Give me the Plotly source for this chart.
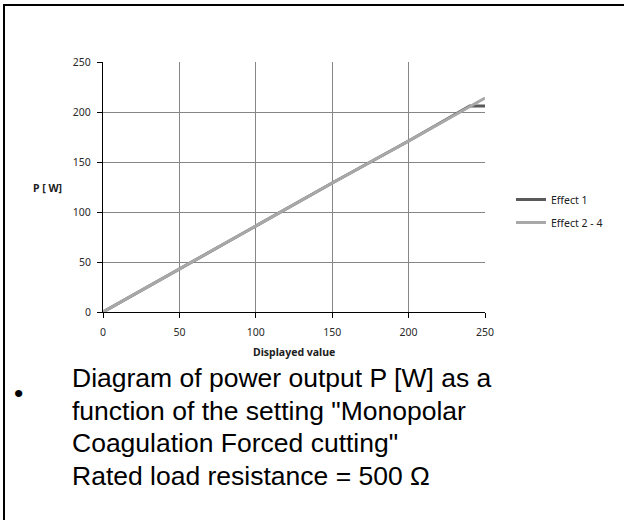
import plotly.graph_objects as go

# Power output vs. displayed setting
displayed = [0, 50, 100, 150, 200, 240, 250]
effect_1 = [0, 43, 86, 129, 171, 206, 206]
effect_2_4 = [0, 43, 86, 129, 171, 206, 214]

x_ticks = [0, 50, 100, 150, 200, 250]
y_ticks = [0, 50, 100, 150, 200, 250]

W, H = 624, 520
L, R, T, B = 103, 485, 62, 312  # plot area in pixels


def px(x):
    return (x - L) / (R - L)


def py(y):
    return (B - y) / (B - T)


tick_font = dict(family="Noto Sans", size=10.5, color="#2a2a2a")
label_font = dict(family="Noto Sans", size=10.5, color="#202020")
grid = "#868686"

fig = go.Figure()
fig.add_trace(go.Scatter(x=displayed, y=effect_1, mode="lines", name="Effect 1",
                         legendgroup="e1",
                         line=dict(color="#5a5a5a", width=3)))
fig.add_trace(go.Scatter(x=displayed, y=effect_2_4, mode="lines", name="Effect 2 - 4",
                         legendgroup="e24",
                         line=dict(color="#a8a8a8", width=3)))

axis_common = dict(range=[0, 250], showgrid=True, gridcolor=grid, gridwidth=1,
                   zeroline=False, showline=True, linecolor="black", linewidth=1,
                   ticks="outside", ticklen=5, tickcolor="black", tickfont=tick_font,
                   fixedrange=True)
fig.update_xaxes(tickvals=x_ticks, ticklabelstandoff=5, **axis_common)
fig.update_yaxes(tickvals=y_ticks, ticklabelstandoff=4, **axis_common)

body_font = dict(family="Liberation Sans", size=26.5, color="black")
annotations = [
    dict(text="<b>Displayed value</b>", x=px(294), y=py(352), xref="paper", yref="paper",
         xanchor="center", yanchor="middle", showarrow=False, font=label_font),
    dict(text="<b>P [ W]</b>", x=px(47), y=py(188), xref="paper", yref="paper",
         xanchor="center", yanchor="middle", showarrow=False, font=label_font),
    dict(text="•", x=px(18), y=py(393), xref="paper", yref="paper", showarrow=False,
         xanchor="center", yanchor="middle", font=body_font),
]
lines = [
    'Diagram of power output P [W] as a',
    'function of the setting "Monopolar',
    'Coagulation Forced cutting"',
    'Rated load resistance = 500 Ω',
]
for i, t in enumerate(lines):
    annotations.append(dict(text=t, x=px(70), y=py(378 + 32.7 * i), xref="paper", yref="paper",
                            xanchor="left", yanchor="middle", showarrow=False, font=body_font))

shapes = [
    dict(type="line", xref="paper", yref="paper", x0=px(3), x1=px(624), y0=py(5), y1=py(5),
         line=dict(color="black", width=2)),
    dict(type="line", xref="paper", yref="paper", x0=px(4), x1=px(4), y0=py(4), y1=py(520),
         line=dict(color="black", width=2)),
]

fig.update_layout(
    width=W, height=H,
    margin=dict(l=L, r=W - R, t=T, b=H - B),
    paper_bgcolor="white", plot_bgcolor="white",
    showlegend=True,
    legend=dict(x=px(511), y=py(185), xanchor="left", yanchor="top",
                font=label_font, traceorder="grouped",
                itemwidth=30, bgcolor="rgba(0,0,0,0)", tracegroupgap=4),
    annotations=annotations,
    shapes=shapes,
)

fig.write_html("out.html", config={"displayModeBar": False})
